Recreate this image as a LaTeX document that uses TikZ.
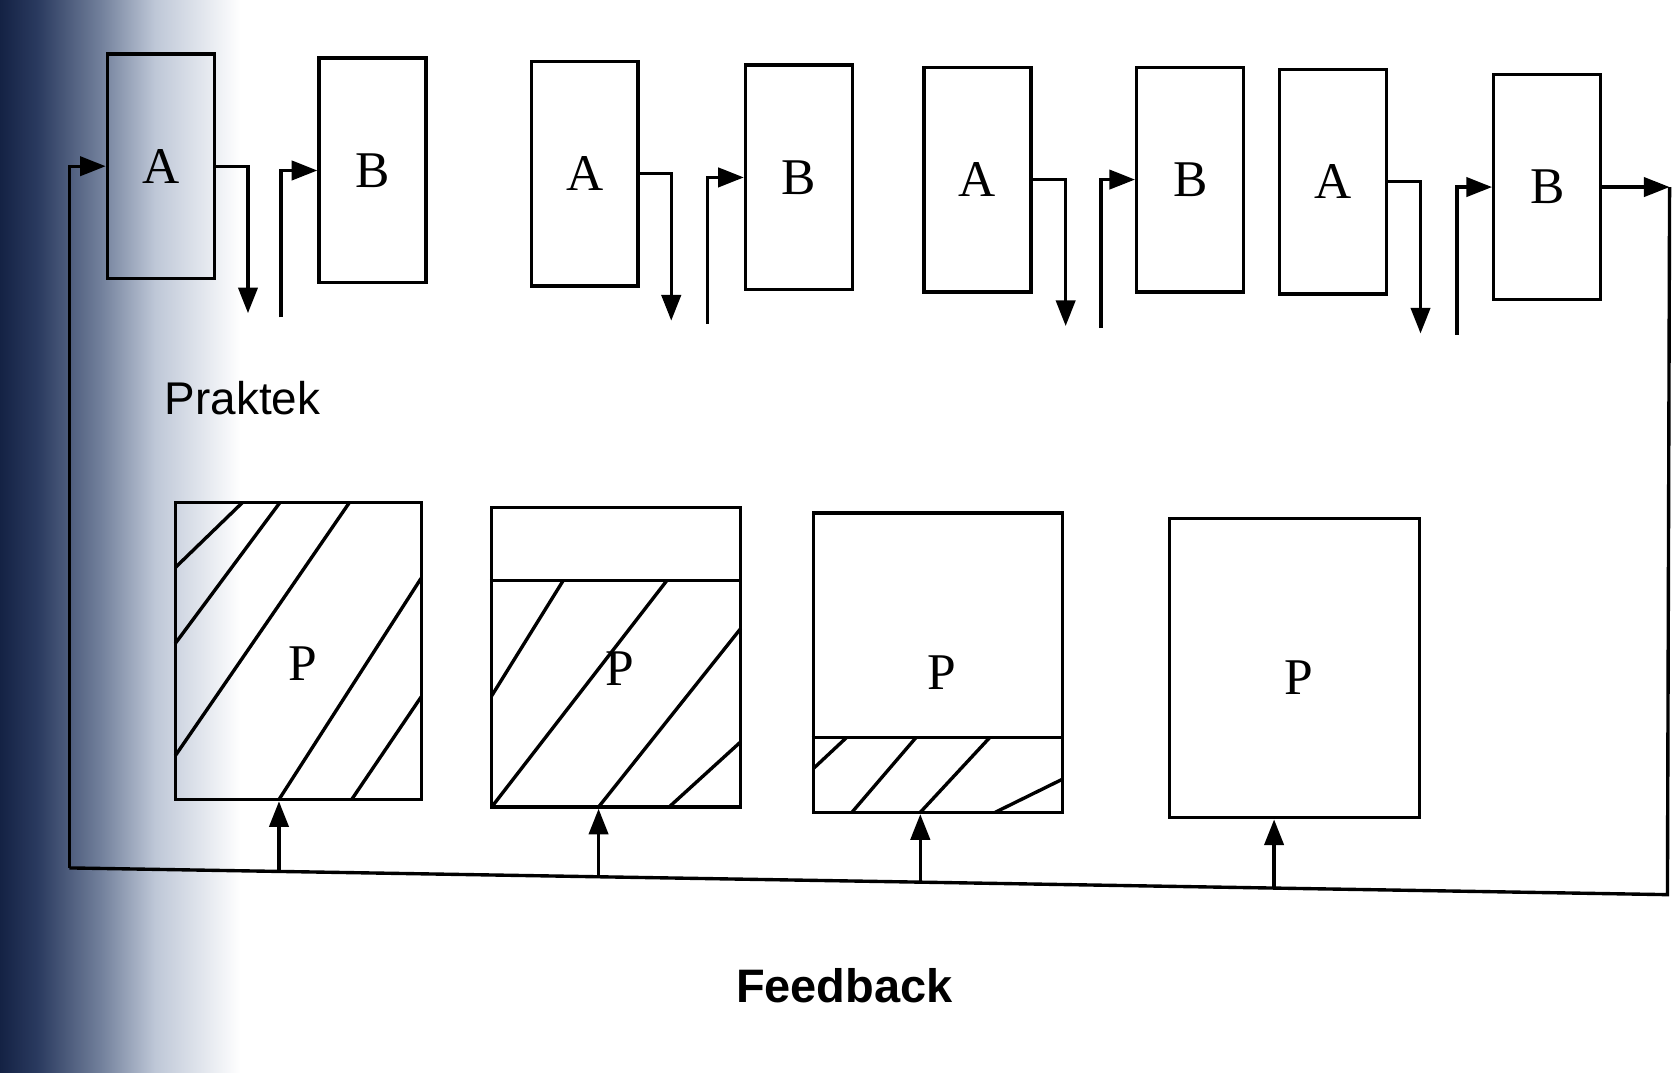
\documentclass[tikz,border=0pt]{standalone}
\usepackage{fontspec}
\setmainfont{Liberation Serif}
\setsansfont{Liberation Sans}
\usetikzlibrary{arrows.meta}
\definecolor{sczero}{RGB}{20,34,68}
\definecolor{scone}{RGB}{42,58,95}
\definecolor{sctwo}{RGB}{115,129,156}
\definecolor{scthree}{RGB}{190,199,215}
\pgfdeclarehorizontalshading{scanedge}{100bp}{color(0bp)=(sczero); color(25bp)=(sczero); color(32bp)=(scone); color(44bp)=(sctwo); color(54bp)=(scthree); color(70bp)=(white); color(100bp)=(white)}
\tikzset{
  x=0.01cm, y=-0.01cm,
  every path/.style={line width=0.9pt},
  blk/.style={draw, line width=0.9pt, minimum width=1cm, minimum height=2.1cm, inner sep=0pt, font=\fontsize{13.7}{16}\selectfont},
  pbox/.style={draw, line width=0.9pt, minimum width=2.32cm, minimum height=2.79cm, inner sep=0pt},
  plabel/.style={font=\fontsize{13.7}{16}\selectfont, inner sep=0pt},
  arr/.style={-{Triangle[length=0.24cm,width=0.18cm]}},
  hatch/.style={line width=0.9pt}
}
\begin{document}
\begin{tikzpicture}
\useasboundingbox (0,0) rectangle (1568,1003);
\shade[shading=scanedge] (0,0) rectangle (250,1003);

% top row
\node[blk] (a1) at (150.5,155.5) {A};
\node[blk] (b1) at (348.5,159.5) {B};
\node[blk] (a2) at (547,162.5) {A};
\node[blk] (b2) at (747.5,166) {B};
\node[blk] (a3) at (914.5,168) {A};
\node[blk] (b3) at (1113.5,168) {B};
\node[blk] (a4) at (1247,170) {A};
\node[blk] (b4) at (1447.5,175) {B};

\coordinate (a1d) at (232,293);
\coordinate (b1u) at (263,297);
\coordinate (a2d) at (628,300);
\coordinate (b2u) at (662,303);
\coordinate (a3d) at (997,305);
\coordinate (b3u) at (1030,307);
\coordinate (a4d) at (1329,312);
\coordinate (b4u) at (1363,313);

\draw[arr] (a1.east) -| (a1d);
\draw[arr] (b1u) |- (b1.west);
\draw[arr] (a2.east) -| (a2d);
\draw[arr] (b2u) |- (b2.west);
\draw[arr] (a3.east) -| (a3d);
\draw[arr] (b3u) |- (b3.west);
\draw[arr] (a4.east) -| (a4d);
\draw[arr] (b4u) |- (b4.west);

% feedback loop
\coordinate (c1) at (1562,175);
\coordinate (c2) at (1560,837);
\coordinate (c3) at (65,812);
\draw[arr] (b4.east) -- (c1);
\draw (c1) -- (c2) -- (c3);
\draw[arr] (c3) |- (a1.west);

\node[font=\sffamily\fontsize{12.2}{14}\selectfont, inner sep=0pt] (prak) at (227,372) {Praktek};
\node[font=\sffamily\bfseries\fontsize{12.5}{14}\selectfont, inner sep=0pt] (feed) at (790,922) {Feedback};

% bottom boxes
\node[pbox, minimum width=2.30cm, minimum height=2.78cm] (p1) at (279,609) {};
\node[pbox, minimum width=2.33cm, minimum height=2.80cm] (p2) at (576.5,615) {};
\node[pbox, minimum width=2.33cm, minimum height=2.80cm] (p3) at (877.5,620) {};
\node[pbox, minimum width=2.34cm, minimum height=2.80cm] (p4) at (1211,625) {};

% hatching P1
\draw[hatch] (227,470) -- (164,531);
\draw[hatch] (262,470) -- (164,602);
\draw[hatch] (327,470) -- (164,707);
\draw[hatch] (394,541) -- (261,748);
\draw[hatch] (394,652) -- (329,748);

% P2
\draw (p2.west |- 0,543) -- (p2.east |- 0,543);
\draw[hatch] (527,543) -- (460,651);
\draw[hatch] (624,543) -- (460,755);
\draw[hatch] (693,588) -- (560,755);
\draw[hatch] (693,694) -- (626,755);

% P3
\draw (p3.west |- 0,690) -- (p3.east |- 0,690);
\draw[hatch] (792,690) -- (761,719);
\draw[hatch] (857,690) -- (797,760);
\draw[hatch] (926,690) -- (861,760);
\draw[hatch] (994,729) -- (931,760);

\node[plabel] (p1t) at (283,621) {P};
\node[plabel] (p2t) at (580,626) {P};
\node[plabel] (p3t) at (881,629) {P};
\node[plabel] (p4t) at (1215,634) {P};

% feedback arrows up
\coordinate (f1) at (261,815.3);
\coordinate (f2) at (560,820.3);
\coordinate (f3) at (861,825.3);
\coordinate (f4) at (1192,830.9);
\draw[arr] (f1) -- (f1 |- p1.south);
\draw[arr] (f2) -- (f2 |- p2.south);
\draw[arr] (f3) -- (f3 |- p3.south);
\draw[arr] (f4) -- (f4 |- p4.south);
\end{tikzpicture}
\end{document}
